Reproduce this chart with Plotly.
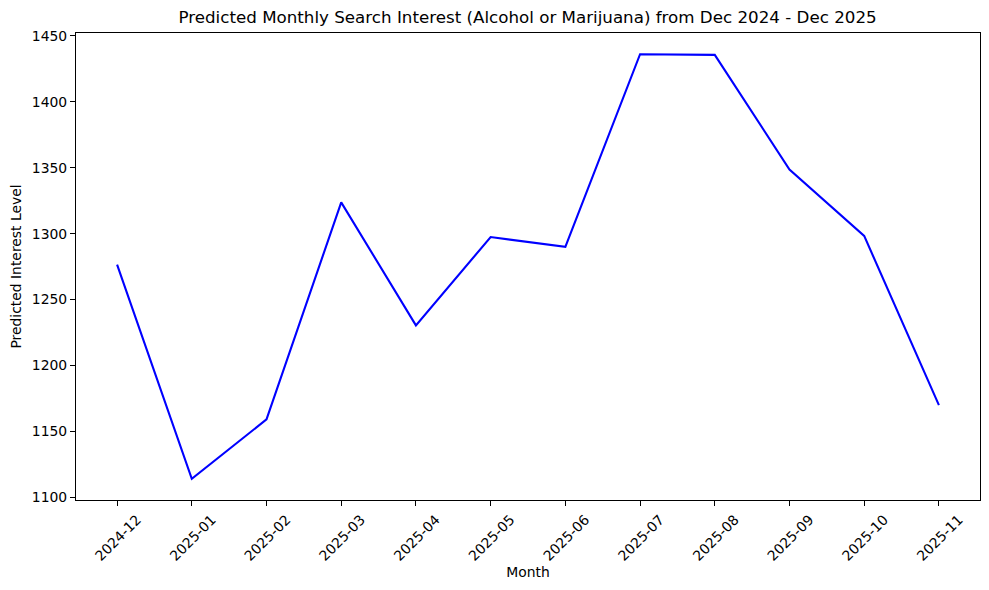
import plotly.graph_objects as go

# Predicted values
months = ["2024-12", "2025-01", "2025-02", "2025-03", "2025-04", "2025-05",
          "2025-06", "2025-07", "2025-08", "2025-09", "2025-10", "2025-11"]
interest = [1276.5, 1114.2, 1159.2, 1323.7, 1230.5, 1297.4,
            1290.0, 1436.0, 1435.5, 1348.6, 1298.3, 1170.0]

# matplotlib-like 5% margins
lo, hi = min(interest), max(interest)
pad = (hi - lo) * 0.05
n = len(months)

font = "DejaVu Sans, sans-serif"

fig = go.Figure(go.Scatter(
    x=months,
    y=interest,
    mode="lines",
    line=dict(color="#0000ff", width=2.1),
    showlegend=False,
))

axis_common = dict(
    showgrid=False,
    zeroline=False,
    showline=True,
    linecolor="black",
    linewidth=1.1,
    mirror=True,
    ticks="outside",
    ticklen=5,
    tickwidth=1.1,
    tickcolor="black",
    tickfont=dict(family=font, size=13.9, color="black"),
    automargin=False,
)

# page body adds an 8px margin, so the figure is sized to fit inside it
fig.update_layout(
    width=973,
    height=574,
    paper_bgcolor="white",
    plot_bgcolor="white",
    margin=dict(l=68, r=1, t=25, b=82),
    title=dict(
        text="Predicted Monthly Search Interest (Alcohol or Marijuana) from Dec 2024 - Dec 2025",
        font=dict(family=font, size=16.7, color="black"),
        x=0.534, xanchor="center", y=0.984, yanchor="middle",
    ),
    font=dict(family=font, color="black"),
)

fig.update_xaxes(
    **axis_common,
    type="category",
    range=[-0.55, n - 1 + 0.55],
    tickangle=-45,
    ticklabelshift=20,
    title=dict(text="Month", font=dict(family=font, size=13.9, color="black"), standoff=4),
)
fig.update_yaxes(
    **axis_common,
    range=[lo - pad, hi + pad],
    dtick=50,
    tick0=1100,
    title=dict(text="Predicted Interest Level", font=dict(family=font, size=13.9, color="black"), standoff=10),
)

fig.write_html("out.html")
